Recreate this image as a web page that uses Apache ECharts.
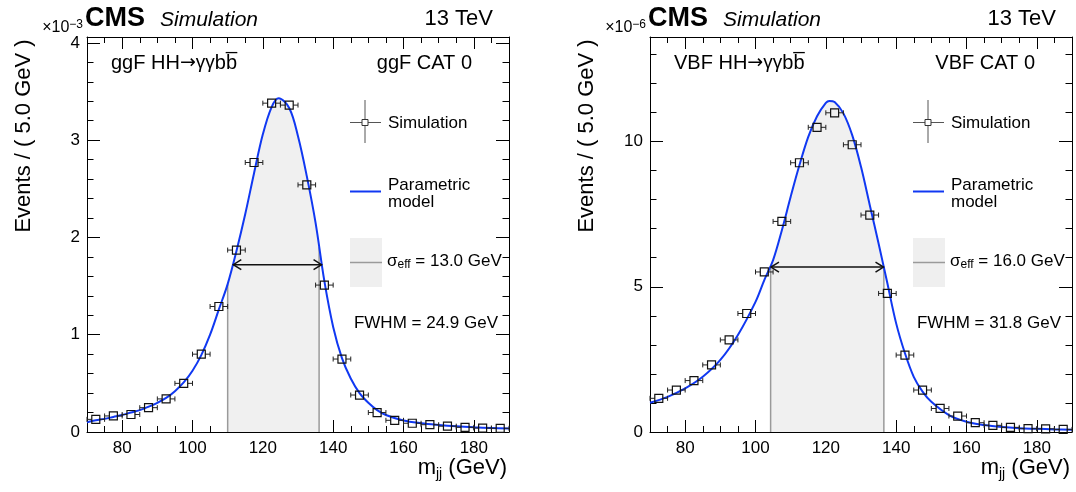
<!DOCTYPE html>
<html><head><meta charset="utf-8">
<script src="https://cdn.jsdelivr.net/npm/echarts@6/dist/echarts.min.js"></script>
<style>html,body{margin:0;padding:0;background:#fff}#c{width:1076px;height:492px}</style>
</head><body><div id="c"></div>
<script>
// ---------------- data ----------------
const binCenters = [72.5,77.5,82.5,87.5,92.5,97.5,102.5,107.5,112.5,117.5,122.5,127.5,132.5,137.5,142.5,147.5,152.5,157.5,162.5,167.5,172.5,177.5,182.5,187.5];
const binHalfWidth = 2.5;

// ggF panel (x 1e-3)
const ggfSim = [0.13,0.165,0.18,0.25,0.34,0.50,0.80,1.29,1.87,2.77,3.38,3.36,2.54,1.51,0.75,0.38,0.20,0.12,0.09,0.075,0.06,0.048,0.04,0.038];
const ggfCurveX = [70,72.5,75,77.5,80,82.5,85,87.5,90,92.5,95,97.5,100,102.5,105,107.5,110,112.5,115,117.5,120,122.5,124.5,127.5,130,132.5,135,137.5,140,142.5,145,147.5,150,152.5,155,160,165,170,175,180,185,190];
const ggfCurveY = [0.10,0.12,0.135,0.155,0.175,0.20,0.225,0.26,0.30,0.35,0.42,0.51,0.63,0.79,1.0,1.26,1.52,1.86,2.24,2.66,3.06,3.34,3.43,3.33,3.04,2.63,2.15,1.55,1.08,0.76,0.55,0.40,0.30,0.225,0.175,0.118,0.09,0.072,0.058,0.048,0.041,0.035];
const ggfSigmaEdges = [110.0, 136.0];
const ggfSigmaEdgeY = [1.52, 1.90];
const ggfFwhmArrow = [111.6, 136.7, 1.72];
const ggfYMax = 4.06;

// VBF panel (x 1e-6)
const vbfSim = [1.16,1.445,1.77,2.31,3.17,4.08,5.51,7.25,9.27,10.49,10.99,9.89,7.47,4.77,2.65,1.445,0.81,0.55,0.32,0.23,0.16,0.115,0.11,0.09];
const vbfCurveX = [70,75,80,85,90,95,100,102.5,105,107.5,110,112.5,115,117.5,120,121,122.5,125,127.5,130,132.5,135,137.5,140,142.5,145,147.5,150,155,160,165,170,175,180,185,190];
const vbfCurveY = [1.01,1.21,1.50,1.90,2.48,3.34,4.48,5.23,5.92,6.95,8.10,9.19,10.16,10.87,11.33,11.40,11.36,10.97,10.22,9.13,7.81,6.49,5.12,3.74,2.71,1.90,1.39,1.04,0.585,0.355,0.24,0.17,0.13,0.11,0.09,0.08];
const vbfSigmaEdges = [104.3, 136.5];
const vbfSigmaEdgeY = [5.69, 5.67];
const vbfFwhmArrow = [104.4, 136.4, 5.68];
const vbfYMax = 13.6;

const xMin = 70, xMax = 190;
const panelTexts = [
  {proc:'ggF', cat:'ggF CAT 0', exp:'−3', sigma:'13.0', fwhm:'24.9'},
  {proc:'VBF', cat:'VBF CAT 0', exp:'−6', sigma:'16.0', fwhm:'31.8'}
];

// ---------------- chart ----------------
const FONT = '"Liberation Sans", Arial, Helvetica, sans-serif';
const BLUE = '#1038f2';
const chart = echarts.init(document.getElementById('c'), null, {renderer:'canvas'});

const grids = [
  {left:87, top:37, width:422, height:395},
  {left:650, top:37, width:422, height:395}
];

function xAxes(g){
  const base = {gridIndex:g, type:'value', min:xMin, max:xMax, splitNumber:6,
    splitLine:{show:false},
    axisLine:{show:true,onZero:false,lineStyle:{color:'#000',width:1}},
    axisTick:{show:true,inside:true,length:12,lineStyle:{color:'#000',width:1}},
    minorTick:{show:true,splitNumber:4,length:6,lineStyle:{color:'#000',width:1}}};
  return [
    Object.assign({}, base, {position:'bottom', axisLabel:{show:true,fontSize:17,fontFamily:FONT,color:'#000',margin:8,
      formatter:v=> (Math.abs(v%20)<1e-9 ? String(v) : '')}}),
    Object.assign({}, base, {position:'top', axisLabel:{show:false}})
  ];
}
function yAxes(g, max, interval){
  const base = {gridIndex:g, type:'value', min:0, max:max, interval:interval,
    splitLine:{show:false},
    axisLine:{show:true,onZero:false,lineStyle:{color:'#000',width:1}},
    axisTick:{show:true,inside:true,length:13,lineStyle:{color:'#000',width:1}},
    minorTick:{show:true,splitNumber:5,length:6.5,lineStyle:{color:'#000',width:1}}};
  return [
    Object.assign({}, base, {position:'left', axisLabel:{show:true,fontSize:17,fontFamily:FONT,color:'#000',margin:7,
      showMaxLabel:false,
      formatter:v=> (Math.abs(v%interval)<1e-9 ? String(v) : '')}}),
    Object.assign({}, base, {position:'right', axisLabel:{show:false}})
  ];
}

function simSeries(xi, yi, vals){
  return {type:'custom', xAxisIndex:xi, yAxisIndex:yi, z:6, silent:true,
    data: binCenters.map((x,i)=>[x, vals[i]]),
    renderItem(params, api){
      const x = api.value(0), y = api.value(1);
      const c = api.coord([x,y]);
      const l = api.coord([x-binHalfWidth,y]);
      const r = api.coord([x+binHalfWidth,y]);
      const h = 4, cap = 2.5, col = '#222';
      const ls = {stroke:col, lineWidth:1};
      return {type:'group', children:[
        {type:'line', shape:{x1:l[0],y1:c[1],x2:c[0]-h,y2:c[1]}, style:ls},
        {type:'line', shape:{x1:c[0]+h,y1:c[1],x2:r[0],y2:c[1]}, style:ls},
        {type:'line', shape:{x1:l[0],y1:c[1]-cap,x2:l[0],y2:c[1]+cap}, style:ls},
        {type:'line', shape:{x1:r[0],y1:c[1]-cap,x2:r[0],y2:c[1]+cap}, style:ls},
        {type:'rect', shape:{x:c[0]-h,y:c[1]-h,width:2*h,height:2*h}, style:{fill:'rgba(0,0,0,0)',stroke:'#111',lineWidth:1.2}}
      ]};
    }};
}

function curveSeries(xi, yi, xs, ys){
  return {type:'line', xAxisIndex:xi, yAxisIndex:yi, z:5, silent:true, smooth:0.35,
    showSymbol:false, data: xs.map((x,i)=>[x, ys[i]]),
    lineStyle:{color:BLUE, width:2}, animation:false};
}

function bandSeries(xi, yi, xs, ys, edges, edgeY){
  const pts = [[edges[0], edgeY[0]]];
  xs.forEach((x,i)=>{ if (x>edges[0] && x<edges[1]) pts.push([x, ys[i]]); });
  pts.push([edges[1], edgeY[1]]);
  return {type:'custom', xAxisIndex:xi, yAxisIndex:yi, z:2, silent:true,
    data:[[edges[0], 0]],
    renderItem(params, api){
      const poly = [api.coord([edges[0],0])];
      pts.forEach(p=>poly.push(api.coord(p)));
      poly.push(api.coord([edges[1],0]));
      const a0 = api.coord([edges[0],0]), a1 = api.coord([edges[0],edgeY[0]]);
      const b0 = api.coord([edges[1],0]), b1 = api.coord([edges[1],edgeY[1]]);
      return {type:'group', children:[
        {type:'polygon', shape:{points:poly}, style:{fill:'#f0f0f0', stroke:null}},
        {type:'line', shape:{x1:a0[0],y1:a0[1],x2:a1[0],y2:a1[1]}, style:{stroke:'#9a9a9a',lineWidth:1.5}},
        {type:'line', shape:{x1:b0[0],y1:b0[1],x2:b1[0],y2:b1[1]}, style:{stroke:'#9a9a9a',lineWidth:1.5}}
      ]};
    }};
}

function arrowSeries(xi, yi, arr){
  return {type:'custom', xAxisIndex:xi, yAxisIndex:yi, z:7, silent:true,
    data:[arr],
    renderItem(params, api){
      const p1 = api.coord([api.value(0), api.value(2)]);
      const p2 = api.coord([api.value(1), api.value(2)]);
      const s = {stroke:'#111', lineWidth:1.5, fill:null};
      const L = 8, H = 5;
      return {type:'group', children:[
        {type:'line', shape:{x1:p1[0],y1:p1[1],x2:p2[0],y2:p2[1]}, style:s},
        {type:'polyline', shape:{points:[[p1[0]+L,p1[1]-H],[p1[0],p1[1]],[p1[0]+L,p1[1]+H]]}, style:s},
        {type:'polyline', shape:{points:[[p2[0]-L,p2[1]-H],[p2[0],p2[1]],[p2[0]-L,p2[1]+H]]}, style:s}
      ]};
    }};
}

// ---------------- text & legend graphics ----------------
function panelGraphics(ox, gl, gr, t){
  const els = [];
  const txt = (x,y,text,opt)=>({type:'text', x:x, y:y, z:20, silent:true,
    style:Object.assign({text:text, fill:'#000', fontFamily:FONT, fontSize:17, align:'left', verticalAlign:'middle'}, opt||{})});
  // header
  els.push(txt(gl-2, 19, 'CMS', {fontSize:27, fontWeight:'bold'}));
  els.push(txt(gl+73, 20, 'Simulation', {fontSize:21, fontStyle:'italic'}));
  els.push(txt(gr-16, 19, '13 TeV', {fontSize:22, align:'right'}));
  els.push(txt(gl-4, 28, '{a|×10}{s|' + t.exp + '}', {align:'right',
    rich:{a:{fontSize:16,fontFamily:FONT,fill:'#000',lineHeight:18}, s:{fontSize:12,fontFamily:FONT,fill:'#000',verticalAlign:'top',lineHeight:12, padding:[0,0,8,0]}}}));
  // y title
  els.push({type:'text', x:ox+24, y:136, rotation:Math.PI/2, z:20, silent:true,
    style:{text:'Events / ( 5.0 GeV )', fill:'#000', fontFamily:FONT, fontSize:22, align:'center', verticalAlign:'middle'}});
  // x title
  els.push(txt(gr-2, 468, '{a|m}{b|jj}{a| (GeV)}', {align:'right',
    rich:{a:{fontSize:22,fontFamily:FONT,fill:'#000',lineHeight:26}, b:{fontSize:14,fontFamily:FONT,fill:'#000',verticalAlign:'bottom',lineHeight:14,padding:[10,0,0,0]}}}));
  // in-plot labels
  els.push(txt(gl+24, 63, '{t|' + t.proc + ' HH}{a|→}{g|γγ}{t|bb\u0305}', {
    rich:{t:{fontSize:20,fontFamily:FONT,fill:'#000',lineHeight:24}, a:{fontSize:19,fontFamily:'"DejaVu Sans"',fill:'#000',lineHeight:24}, g:{fontSize:19,fontFamily:FONT,fill:'#000',lineHeight:24}}}));
  els.push(txt(gr-37, 63, t.cat, {fontSize:20, align:'right'}));
  // legend: simulation
  const lx = ox + 350;
  els.push({type:'line', silent:true, z:20, shape:{x1:lx+15,y1:100,x2:lx+15,y2:143}, style:{stroke:'#555',lineWidth:1}});
  els.push({type:'line', silent:true, z:20, shape:{x1:lx,y1:122.5,x2:lx+31,y2:122.5}, style:{stroke:'#555',lineWidth:1}});
  els.push({type:'rect', silent:true, z:21, shape:{x:lx+12,y:119.5,width:6,height:6}, style:{fill:'#fff',stroke:'#333',lineWidth:1}});
  els.push(txt(lx+38, 123, 'Simulation'));
  // legend: model
  els.push({type:'line', silent:true, z:20, shape:{x1:lx,y1:191.5,x2:lx+31,y2:191.5}, style:{stroke:BLUE,lineWidth:2}});
  els.push(txt(lx+38, 185, 'Parametric'));
  els.push(txt(lx+38, 202, 'model'));
  // legend: sigma eff
  els.push({type:'rect', silent:true, z:19, shape:{x:lx,y:238,width:32,height:49}, style:{fill:'#efefef'}});
  els.push({type:'line', silent:true, z:20, shape:{x1:lx,y1:262.5,x2:lx+32,y2:262.5}, style:{stroke:'#9a9a9a',lineWidth:1.5}});
  els.push(txt(lx+37, 261, '{g|σ}{b|eff}{g| = ' + t.sigma + ' GeV}', {
    rich:{g:{fontSize:17,fontFamily:FONT,fill:'#000',lineHeight:20}, b:{fontSize:12,fontFamily:FONT,fill:'#000',verticalAlign:'bottom',lineHeight:12,padding:[8,0,0,0]}}}));
  els.push(txt(gr-11, 323, 'FWHM = ' + t.fwhm + ' GeV', {align:'right'}));
  return els;
}

const option = {
  animation:false,
  backgroundColor:'#fff',
  grid: grids,
  xAxis: [...xAxes(0), ...xAxes(1)],
  yAxis: [...yAxes(0, ggfYMax, 1), ...yAxes(1, vbfYMax, 5)],
  series: [
    bandSeries(0, 0, ggfCurveX, ggfCurveY, ggfSigmaEdges, ggfSigmaEdgeY),
    curveSeries(0, 0, ggfCurveX, ggfCurveY),
    arrowSeries(0, 0, ggfFwhmArrow),
    simSeries(0, 0, ggfSim),
    bandSeries(2, 2, vbfCurveX, vbfCurveY, vbfSigmaEdges, vbfSigmaEdgeY),
    curveSeries(2, 2, vbfCurveX, vbfCurveY),
    arrowSeries(2, 2, vbfFwhmArrow),
    simSeries(2, 2, vbfSim)
  ],
  graphic: [
    ...panelGraphics(0, 87, 509, panelTexts[0]),
    ...panelGraphics(563, 650, 1072, panelTexts[1])
  ]
};
chart.setOption(option);
</script></body></html>
